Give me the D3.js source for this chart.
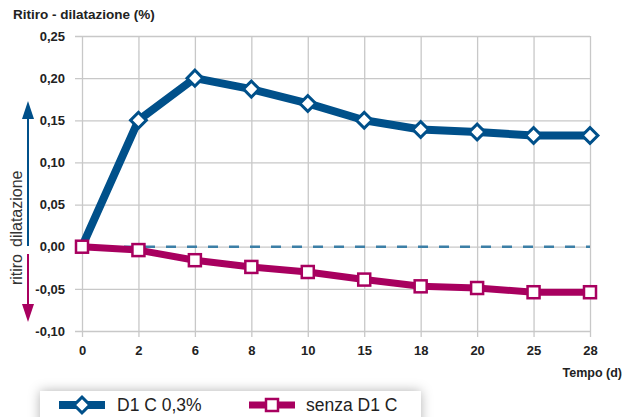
<!DOCTYPE html>
<html>
<head>
<meta charset="utf-8">
<script src="https://cdn.jsdelivr.net/npm/d3@7"></script>
<style>
  body { margin: 0; background: #fff; }
  svg { font-family: "Liberation Sans", Arial, sans-serif; }
</style>
</head>
<body>
<div id="chart"></div>
<script>
// x categories (days) and the two series
const days = ["0", "2", "6", "8", "10", "15", "18", "20", "25", "28"];
const withFiber = [0.0, 0.15, 0.2, 0.187, 0.17, 0.15, 0.139, 0.136, 0.132, 0.132];
const withoutFiber = [0.0, -0.004, -0.016, -0.024, -0.03, -0.039, -0.047, -0.049, -0.054, -0.054];
const yTicks = [-0.1, -0.05, 0, 0.05, 0.1, 0.15, 0.2, 0.25];
const seriesNames = ["D1 C 0,3%", "senza D1 C"];

const blue = "#00508a", magenta = "#a8005f", grid = "#c8c8c8";

const width = 633, height = 417;
const svg = d3.select("#chart").append("svg")
  .attr("width", width).attr("height", height);

// scales
const x = d3.scalePoint().domain(days).range([82, 590]).padding(0);
const y = d3.scaleLinear().domain([-0.1, 0.25]).range([331, 36]);

const it = d3.formatLocale({ decimal: ",", thousands: ".", grouping: [3], currency: ["", "€"], minus: "-" });
const fmt = it.format(".2f");

// y axis with gridlines
const yAxis = svg.append("g")
  .attr("transform", "translate(82,0)")
  .call(d3.axisLeft(y).tickValues(yTicks).tickFormat(fmt).tickSize(-508).tickPadding(17));
yAxis.select(".domain").remove();
yAxis.selectAll(".tick line").attr("x1", -7).attr("stroke", grid).attr("stroke-width", 1.3);
yAxis.selectAll(".tick text")
  .attr("fill", "#222").style("font-size", "13px").style("font-weight", "bold");

// x axis with gridlines
const xAxis = svg.append("g")
  .attr("transform", "translate(0,331)")
  .call(d3.axisBottom(x).tickSize(-295).tickPadding(15));
xAxis.select(".domain").remove();
xAxis.selectAll(".tick line").attr("y1", 6).attr("stroke", grid).attr("stroke-width", 1.3);
xAxis.selectAll(".tick text")
  .attr("fill", "#222").style("font-size", "13px").style("font-weight", "bold");

// dashed zero line
svg.append("line")
  .attr("x1", x("0")).attr("x2", x("28"))
  .attr("y1", y(0)).attr("y2", y(0))
  .attr("stroke", "#3c7fa6").attr("stroke-width", 2.5)
  .attr("stroke-dasharray", "10,11");

// titles
svg.append("text")
  .attr("x", 13).attr("y", 19)
  .attr("fill", "#222").style("font-size", "13.5px").style("font-weight", "bold")
  .text("Ritiro - dilatazione (%)");

svg.append("text")
  .attr("x", 622).attr("y", 377).attr("text-anchor", "end")
  .attr("fill", "#222").style("font-size", "12.5px").style("font-weight", "bold")
  .text("Tempo (d)");

// arrows on the left
const defs = svg.append("defs");
const shadow = defs.append("filter").attr("id", "shadow")
  .attr("x", "-20%").attr("y", "-100%").attr("width", "140%").attr("height", "300%");
shadow.append("feDropShadow").attr("dx", 0).attr("dy", 0)
  .attr("stdDeviation", 6).attr("flood-color", "#000").attr("flood-opacity", 0.3);

svg.append("line").attr("x1", 28).attr("x2", 28).attr("y1", 246).attr("y2", 115)
  .attr("stroke", blue).attr("stroke-width", 2);
svg.append("path").attr("d", "M28,101 L22,119 L34,119 Z").attr("fill", blue);

svg.append("line").attr("x1", 28).attr("x2", 28).attr("y1", 254).attr("y2", 308)
  .attr("stroke", magenta).attr("stroke-width", 2);
svg.append("path").attr("d", "M28,322 L22,304 L34,304 Z").attr("fill", magenta);

svg.append("text")
  .attr("transform", "translate(22,247) rotate(-90)")
  .attr("fill", "#333").style("font-size", "16px")
  .text("dilatazione");
svg.append("text")
  .attr("transform", "translate(22,254) rotate(-90)")
  .attr("text-anchor", "end")
  .attr("fill", "#333").style("font-size", "16px")
  .text("ritiro");

// lines
const line = d3.line().x((d, i) => x(days[i])).y(d => y(d));

svg.append("path").datum(withFiber)
  .attr("d", line).attr("fill", "none")
  .attr("stroke", blue).attr("stroke-width", 8).attr("stroke-linejoin", "round");

svg.append("g").selectAll("path")
  .data(withFiber.slice(1))
  .join("path")
  .attr("d", d3.symbol(d3.symbolSquare, 125)())
  .attr("transform", (d, i) => "translate(" + x(days[i + 1]) + "," + y(d) + ") rotate(45)")
  .attr("fill", "#fff").attr("stroke", blue).attr("stroke-width", 3);

svg.append("path").datum(withoutFiber)
  .attr("d", line).attr("fill", "none")
  .attr("stroke", magenta).attr("stroke-width", 7).attr("stroke-linejoin", "round");

svg.append("g").selectAll("rect")
  .data(withoutFiber)
  .join("rect")
  .attr("x", (d, i) => x(days[i]) - 6).attr("y", d => y(d) - 6)
  .attr("width", 12).attr("height", 12)
  .attr("fill", "#fff").attr("stroke", magenta).attr("stroke-width", 2.5);

// legend
const legend = svg.append("g");
legend.append("rect")
  .attr("x", 40).attr("y", 391).attr("width", 381).attr("height", 40)
  .attr("fill", "#fff").attr("filter", "url(#shadow)");

legend.append("line").attr("x1", 59).attr("x2", 105).attr("y1", 405).attr("y2", 405)
  .attr("stroke", blue).attr("stroke-width", 8);
legend.append("path")
  .attr("d", d3.symbol(d3.symbolSquare, 125)())
  .attr("transform", "translate(82,405) rotate(45)")
  .attr("fill", "#fff").attr("stroke", blue).attr("stroke-width", 3);
legend.append("text").attr("x", 117).attr("y", 411)
  .attr("fill", "#222").style("font-size", "17.5px").text(seriesNames[0]);

legend.append("line").attr("x1", 249).attr("x2", 295).attr("y1", 405).attr("y2", 405)
  .attr("stroke", magenta).attr("stroke-width", 7);
legend.append("rect").attr("x", 266).attr("y", 399).attr("width", 12).attr("height", 12)
  .attr("fill", "#fff").attr("stroke", magenta).attr("stroke-width", 2.5);
legend.append("text").attr("x", 306).attr("y", 411)
  .attr("fill", "#222").style("font-size", "17.5px").text(seriesNames[1]);
</script>
</body>
</html>
